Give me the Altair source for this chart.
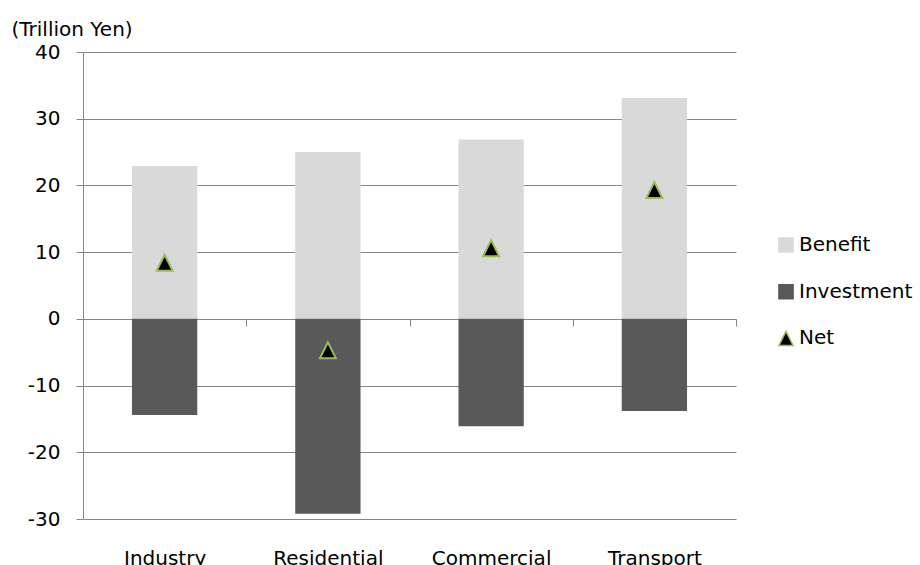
import altair as alt
import pandas as pd

# Cost-benefit by sector, trillion yen
categories = ["Industry", "Residential", "Commercial", "Transport"]
benefit = [22.9, 25.0, 26.9, 33.1]
investment = [-14.4, -29.2, -16.1, -13.8]
net = [8.4, -4.7, 10.6, 19.3]

series_names = ["Benefit", "Investment", "Net"]
fill_colors = ["#d9d9d9", "#595959", "#000000"]
stroke_colors = ["#d9d9d9", "#595959", "#9bbb59"]
triangle = "M0,-1L1,1L-1,1Z"
shapes = ["square", "square", triangle]

rows = []
for name, values in zip(series_names, [benefit, investment, net]):
    for cat, val in zip(categories, values):
        rows.append({"category": cat, "series": name, "value": val})
df = pd.DataFrame(rows)

FONT = "DejaVu Sans"
GRID = "#868686"
FS = 20

legend = alt.Legend(
    title=None, orient="none", legendX=693, legendY=183,
    symbolSize=200, symbolStrokeWidth=1.5,
    labelFont=FONT, labelFontSize=FS, labelColor="black",
    rowPadding=24.7, labelOffset=3, padding=0,
)

# Full-step bands so axis ticks fall on category boundaries; bar width set on the mark
x_enc = alt.X(
    "category:N", sort=categories, title=None,
    scale=alt.Scale(paddingInner=0, paddingOuter=0),
    axis=alt.Axis(
        labelAngle=0, offset=-200, tickBand="extent", tickSize=7,
        labelPadding=222, domainColor=GRID, tickColor=GRID, tickWidth=1,
        labelFont=FONT, labelFontSize=FS, labelColor="black", grid=False,
    ),
)
y_enc = alt.Y(
    "value:Q", title="(Trillion Yen)",
    scale=alt.Scale(domain=[-30, 40], nice=False, zero=False),
    axis=alt.Axis(
        values=list(range(-30, 41, 10)), tickSize=7, labelPadding=16,
        labelExpr="toString(datum.value)",
        domainColor=GRID, tickColor=GRID, gridColor=GRID, gridWidth=1,
        labelFont=FONT, labelFontSize=FS, labelColor="black",
        titleAngle=0, titleX=-72, titleY=-17, titleAlign="left",
        titleBaseline="alphabetic", titleFont=FONT, titleFontSize=FS,
        titleFontWeight="normal", titleColor="black",
    ),
)

color_enc = alt.Color(
    "series:N", scale=alt.Scale(domain=series_names, range=fill_colors), legend=legend
)
shape_enc = alt.Shape(
    "series:N", scale=alt.Scale(domain=series_names, range=shapes), legend=legend
)
stroke_enc = alt.Stroke(
    "series:N", scale=alt.Scale(domain=series_names, range=stroke_colors), legend=legend
)

bars = (
    alt.Chart(df)
    .transform_filter(alt.FieldOneOfPredicate(field="series", oneOf=["Benefit", "Investment"]))
    .mark_bar(width=alt.RelativeBandSize(0.4))
    .encode(x=x_enc, y=y_enc.stack(None), color=color_enc)
)

points = (
    alt.Chart(df)
    .transform_filter(alt.FieldEqualPredicate(field="series", equal="Net"))
    .mark_point(filled=True, size=256, strokeWidth=2, opacity=1)
    .encode(x=x_enc, y=y_enc, color=color_enc, shape=shape_enc, stroke=stroke_enc)
)

chart = (
    alt.layer(bars, points)
    .properties(
        width=653, height=467,
        autosize=alt.AutoSizeParams(type="none"),
        padding={"left": 83, "top": 52, "right": 184, "bottom": 46},
        background="white",
    )
    .configure_view(stroke=None)
)

chart.save("out.html", embed_options={"renderer": "svg", "actions": False})
